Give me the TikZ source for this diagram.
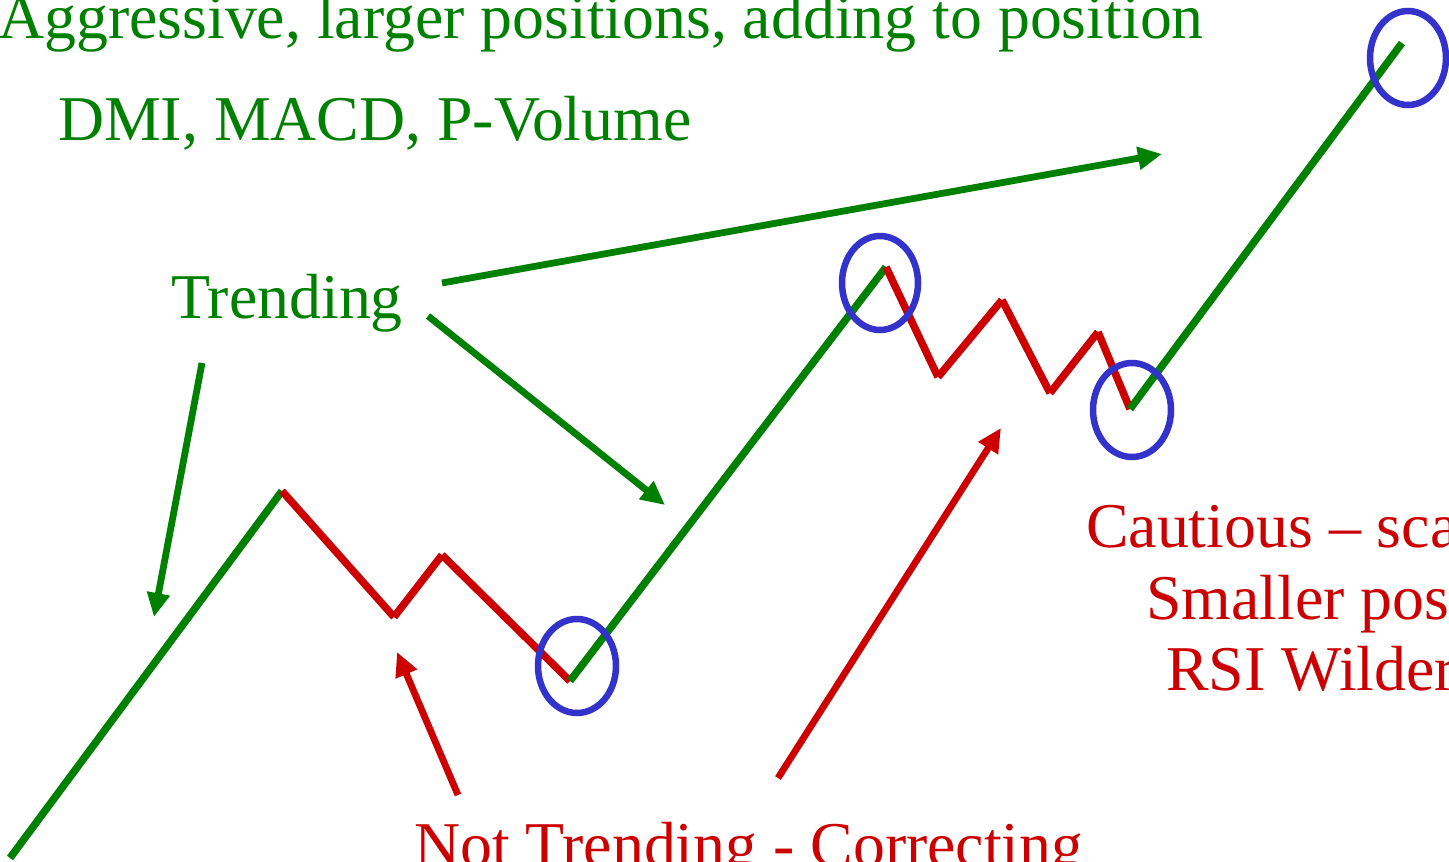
\documentclass[tikz,border=0pt]{standalone}
\usepackage{fontspec}
\setmainfont{Liberation Serif}
\usetikzlibrary{arrows.meta}
\definecolor{tgreen}{HTML}{008000}
\definecolor{tred}{HTML}{CC0000}
\definecolor{tblue}{HTML}{3333CC}
\tikzset{
  seg/.style={line width=7.5pt, line cap=butt},
  upseg/.style={seg, draw=tgreen},
  downseg/.style={seg, draw=tred},
  ring/.style={draw=tblue, line width=6.5pt},
  pointer/.style={line width=6.8pt, -{Triangle[length=24pt,width=22pt]}},
  lbl/.style={inner sep=0pt, anchor=base west, font=\fontsize{63.8}{70}\selectfont},
}
\begin{document}
\begin{tikzpicture}[x=1pt,y=-1pt]
\useasboundingbox (0,0) rectangle (1449,862);
% vertices of the price path
\coordinate (p0) at (10,858);
\coordinate (p1) at (282,491);
\coordinate (p2) at (394,617);
\coordinate (p3) at (442,555);
\coordinate (p4) at (570,681);
\coordinate (p5) at (886,267);
\coordinate (p6) at (938,377);
\coordinate (p7) at (1002,300);
\coordinate (p8) at (1050,393);
\coordinate (p9) at (1098,332);
\coordinate (p10) at (1130,409);
\coordinate (p11) at (1402,43);
% path
\draw[upseg] (p0) -- (p1);
\draw[downseg] (p1) -- (p2);
\draw[downseg] (p2) -- (p3);
\draw[downseg] (p3) -- (p4);
\draw[upseg] (p4) -- (p5);
\draw[downseg] (p5) -- (p6);
\draw[downseg] (p6) -- (p7);
\draw[downseg] (p7) -- (p8);
\draw[downseg] (p8) -- (p9);
\draw[downseg] (p9) -- (p10);
\draw[upseg] (p10) -- (p11);
% rings
\draw[ring] (577,666) ellipse [x radius=39, y radius=47];
\draw[ring] (880,283) ellipse [x radius=38, y radius=47];
\draw[ring] (1132,410) ellipse [x radius=39, y radius=47];
\draw[ring] (1408,58) ellipse [x radius=38, y radius=47];
% labels
\node[lbl, text=tgreen] (aggr) at (-2,38) {Aggressive, larger positions, adding to position};
\node[lbl, text=tgreen] (dmi) at (58,140) {DMI, MACD, P-Volume};
\node[lbl, text=tgreen] (trend) at (171,318) {Trending};
\node[lbl, text=tred] (caut) at (1086,547) {Cautious – scale in};
\node[lbl, text=tred] (small) at (1146,619) {Smaller positions};
\node[lbl, text=tred] (rsi) at (1166,690) {RSI Wilder};
\node[lbl, text=tred] (nottr) at (414,866) {Not Trending - Correcting};
% arrow end points
\coordinate (ta) at (442,283);
\coordinate (tah) at (1162,154);
\coordinate (tb) at (428,316);
\coordinate (tbh) at (665,505);
\coordinate (tc) at (202,363);
\coordinate (tch) at (154,617);
\coordinate (na) at (458,795);
\coordinate (nah) at (397,652);
\coordinate (nb) at (778,778);
\coordinate (nbh) at (1001,428);
% arrows
\draw[pointer, draw=tgreen, fill=tgreen] (ta) -- (tah);
\draw[pointer, draw=tgreen, fill=tgreen] (tb) -- (tbh);
\draw[pointer, draw=tgreen, fill=tgreen] (tc) -- (tch);
\draw[pointer, draw=tred, fill=tred] (na) -- (nah);
\draw[pointer, draw=tred, fill=tred] (nb) -- (nbh);
\end{tikzpicture}
\end{document}
